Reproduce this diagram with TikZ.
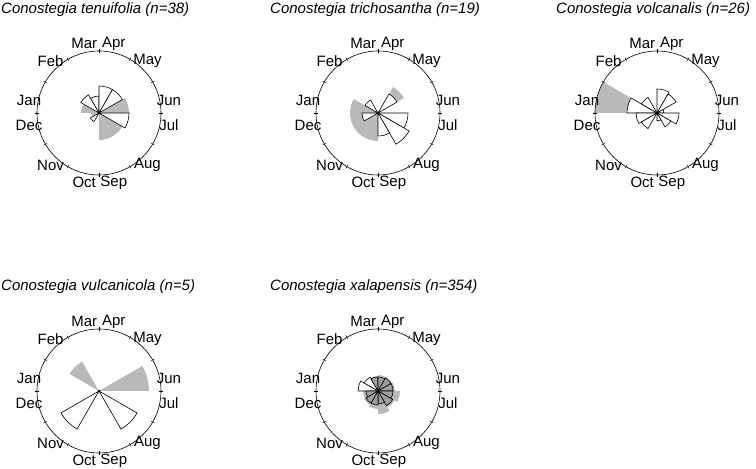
\documentclass[tikz,border=0pt]{standalone}
\usepackage{fontspec}
\setmainfont{Liberation Sans}
\usetikzlibrary{calc}

\tikzset{
  title/.style={anchor=north west,font=\itshape\fontsize{15}{17}\selectfont,inner sep=0pt},
  month/.style={font=\fontsize{15}{17}\selectfont,inner sep=1pt},
  dial/.style={draw,line width=0.6pt},
  obs/.style={draw,line width=0.6pt,fill=white},
  obsgrey/.style={draw,line width=0.6pt,fill=gray!75},
  pred/.style={fill=gray!55}
}
% one dial: centre name, x, y
\newcommand{\dialat}[3]{%
  \coordinate (#1) at (#2,#3);
  \draw[dial] (#1) circle (62);
  \foreach \a in {0,30,...,330}
    \draw[line width=0.4pt] ($(#1)+(\a:60)$) -- ($(#1)+(\a:64)$);
  \foreach \lab/\ang in {Apr/78,May/47,Jun/10,Jul/-10,Aug/-47,Sep/-78,Oct/-102,Nov/-133,Dec/-170,Jan/170,Feb/133,Mar/102}
    \node[month] at ($(#1)+(\ang:71)$) {\lab};
  \fill (#1) circle (1.3);
}
\newcommand{\petal}[4]{% style, centre, start angle, radius
  \path[#1] (#2) -- ($(#2)+(#3:#4)$) arc[start angle=#3,end angle=#3+30,radius=#4] -- cycle;
}

\begin{document}
\begin{tikzpicture}[x=1pt,y=1pt]
  \useasboundingbox (0,0) rectangle (756,469);

  \node[title] (t1) at (1,467) {Conostegia tenuifolia (n=38)};
  \node[title] (t2) at (270,467) {Conostegia trichosantha (n=19)};
  \node[title] (t3) at (556,467) {Conostegia volcanalis (n=26)};
  \node[title] (t4) at (1,190) {Conostegia vulcanicola (n=5)};
  \node[title] (t5) at (270,190) {Conostegia xalapensis (n=354)};

  % tenuifolia
  \coordinate (c1) at (99,356);
  \foreach \s/\r in {0/30,-30/27,-60/27,-90/27,150/18,180/8}
    \petal{pred}{c1}{\s}{\r};
  \foreach \s/\r in {90/17,60/27,30/27,-30/30,120/21,210/10}
    \petal{obs}{c1}{\s}{\r};
  \dialat{c1}{99}{356}

  % trichosantha
  \coordinate (c2) at (378,356);
  \foreach \s/\r in {30/30,150/28,180/28,210/28,240/28}
    \petal{pred}{c2}{\s}{\r};
  \foreach \s/\r in {30/22,120/15,180/16,-30/30,-60/36,-90/23}
    \petal{obs}{c2}{\s}{\r};
  \dialat{c2}{378}{356}

  % volcanalis
  \coordinate (c3) at (657,356);
  \petal{pred}{c3}{150}{62}
  \foreach \s/\r in {150/30,120/18,60/24,30/22,0/7,-30/22,-60/16,-90/8,180/21,210/18}
    \petal{obs}{c3}{\s}{\r};
  \dialat{c3}{657}{356}

  % vulcanicola
  \coordinate (c4) at (99,78);
  \petal{pred}{c4}{0}{50}
  \petal{pred}{c4}{120}{34}
  \petal{obs}{c4}{-60}{44}
  \petal{obs}{c4}{210}{44}
  \dialat{c4}{99}{78}

  % xalapensis
  \coordinate (c5) at (378,78);
  \foreach \s/\r in {0/17,-30/22,-60/19,-90/23,-120/18,-150/16,180/15,90/15,60/16,30/16}
    \petal{pred}{c5}{\s}{\r};
  \foreach \s/\r in {150/20,120/16}
    \petal{obs}{c5}{\s}{\r};
  \foreach \s/\r in {90/14,60/14,30/15,0/15,-30/15,-60/17,-90/13,-120/14,-150/14,180/12}
    \petal{obsgrey}{c5}{\s}{\r};
  \dialat{c5}{378}{78}
\end{tikzpicture}
\end{document}
